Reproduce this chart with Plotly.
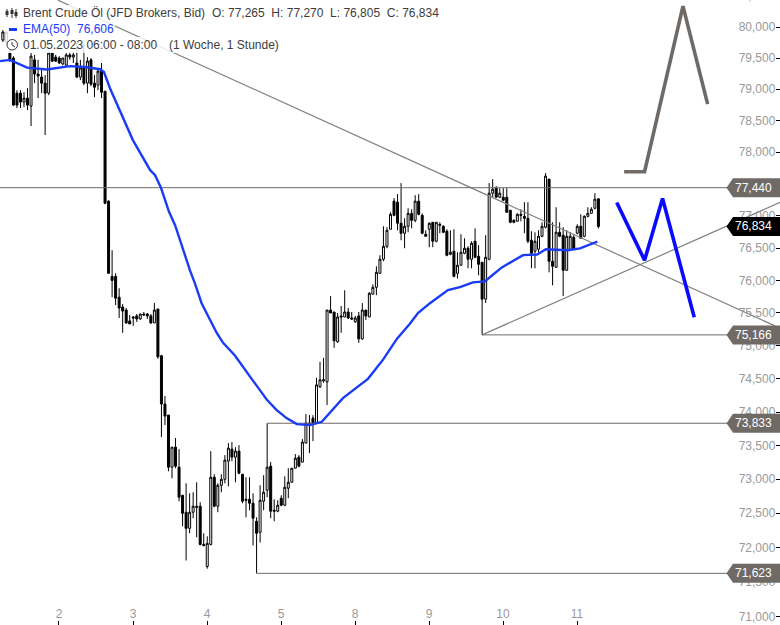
import math
import plotly.graph_objects as go

# hourly candles
opens = [79790,79760,79580,79500,78937,78937,78794,78857,78730,79470,79242,79194,79097,78937,79580,79515,79500,79405,79385,79550,
79515,79420,79194,79355,79097,79470,79097,79065,79290,78968,77229,76062,76062,75742,75591,75545,75379,75439,75455,75409,
75485,75485,75455,75349,75561,74849,74121,73955,73179,73477,73179,72765,72515,72279,72515,72603,72603,72044,71721,72044,
73030,72603,72912,73000,73269,73448,73328,73418,73075,72706,72706,72647,72382,72221,72677,72838,73194,72544,72530,72721,
72618,72868,72956,73164,73328,73254,73537,73836,73910,73836,74379,74470,74455,75545,75515,75061,75455,75439,75515,75424,
75364,75455,75106,75545,75439,75788,75894,76109,76326,76527,76791,77229,77213,76884,76729,76837,77039,76930,77229,77008,
76713,76791,76899,76605,76868,76837,76760,76403,76450,76109,76233,76419,76496,76326,76605,76372,76279,75712,76326,77354,
77433,77291,77291,77291,77087,76930,76915,77024,76992,76961,76620,76450,76481,76682,76822,77575,76295,76202,76744,76698,
76155,76465,76667,76729,76837,76682,76992,77039,77118,77265]
highs = [79950,79935,79645,79530,78984,78984,78952,79016,79580,79550,79470,79339,79226,79610,79580,79550,79530,79500,79580,79595,
79595,79740,79470,79740,79515,79500,79226,79339,79420,78968,77244,76465,76109,75879,75636,75576,75470,75455,75485,75485,
75515,75500,75485,75652,75561,74864,74242,73955,73477,73612,73448,72765,72941,72794,72809,72956,72662,72206,72162,73418,
73075,72941,73075,73358,73537,73552,73477,73507,73075,73030,73030,72794,72441,72912,73060,73833,73254,72706,72691,72765,
73045,73164,73164,73373,73358,73597,73970,73955,73955,74515,74758,74818,75545,75758,75515,75500,75606,75848,75576,75515,
75455,75515,75652,75545,75818,75939,76217,76388,76837,76822,77055,77276,77339,77512,76961,77118,77102,77323,77339,77039,
76775,76899,76899,76899,76899,76853,76791,76775,76791,76434,76713,76651,76527,76605,76806,76543,76279,76698,77512,77575,
77465,77433,77433,77433,77087,76946,77039,77102,77213,77213,76760,76744,76775,76899,77669,77575,76899,77134,76899,76822,
76775,76744,76698,76868,77024,77008,77134,77134,77354,77270]
lows = [79760,79725,79435,78730,78698,78698,78714,78667,78413,79097,78857,78937,78270,78905,79435,79435,79405,79385,79370,79470,
79420,79178,79145,79065,78937,79048,78873,78984,78857,77181,76109,75742,75621,75424,75197,75333,75333,75303,75364,75394,
75455,75409,75333,75349,74803,73627,73806,73119,73015,73164,72677,72309,71809,72206,72427,72147,72029,72015,71691,72029,
72588,72515,72809,72941,72897,73269,72956,73075,72647,72441,72544,72029,71623,72073,72544,72735,72427,72382,72515,72603,
72603,72721,72956,73164,73179,73254,73537,73388,73567,73820,74364,74440,74106,75500,74970,75045,75197,75439,75409,75394,
75349,75045,75091,75394,75439,75788,75773,76109,76295,76496,76791,76992,76775,76620,76496,76744,76806,76899,77008,76713,
76682,76512,76512,76589,76729,76729,76372,76388,76047,76031,76233,76403,76186,76186,76341,76078,75166,75652,76310,77291,
77291,77276,77229,77055,76884,76884,76915,76915,76729,76574,76186,76186,76434,76667,76806,76124,75924,76202,76667,75758,
76155,76450,76465,76713,76651,76667,76977,77039,77102,76805]
closes = [79920,79920,79470,78746,78746,78794,78857,78746,79530,79242,79210,79097,78937,79580,79450,79450,79420,79500,79550,79515,
79550,79194,79339,79097,79450,79081,79032,79290,78952,77197,76109,76000,75727,75576,75530,75349,75333,75424,75409,75485,
75470,75455,75349,75545,74833,74121,73940,73179,73477,73194,72735,72500,72279,72515,72603,72588,72044,72029,72059,73030,
72603,72912,73000,73284,73462,73328,73418,73090,72677,72691,72647,72427,72206,72691,72809,73179,72530,72530,72618,72618,
72882,72956,73164,73313,73194,73552,73836,73820,73836,74409,74485,74485,75545,75500,75076,75439,75439,75515,75424,75409,
75424,75106,75545,75455,75803,75894,76124,76326,76527,76775,77024,77008,76884,76729,76837,77039,76930,77229,77024,76729,
76682,76884,76605,76899,76853,76744,76388,76434,76062,76233,76434,76496,76326,76574,76357,76248,75712,76357,77354,77417,
77291,77354,77244,77055,76899,76899,77024,77008,76961,76605,76419,76605,76682,76837,77622,76295,76217,76744,76682,76155,
76682,76682,76481,76837,76651,76992,77039,77102,77260,76834]

ema_x = [-0.8,2,6.9,12.5,19,23.3,27.6,28.7,30.4,33.2,36.9,41.8,43.2,44.9,47.1,48.9,50.3,51.7,53.1,54.5,56.4,57.8,60.7,62.5,65.9,70.6,75,77.7,80.5,83.4,87.2,90.5,92.8,96.5,103.6,107.9,111.8,115.5,117.8,121.2,126.3,129.7,133.4,136.8,138.8,141.6,147.6,151.6,154.1,160.1,163.8,168.7]
ema_y = [79450,79470,79345,79315,79370,79355,79320,79275,79015,78665,78190,77715,77635,77435,77070,76850,76620,76370,76155,75955,75650,75500,75195,75045,74850,74500,74180,74030,73910,73820,73805,73855,73995,74210,74500,74790,75105,75335,75500,75650,75850,75895,75970,75985,76075,76200,76390,76400,76480,76465,76495,76600]

level_prices = [77440, 75166, 73833, 71623]
level_starts = [-0.81, 136, 75, 72]
level_labels = ["77,440", "75,166", "73,833", "71,623"]
last_price = 76834
last_label = "76,834"

fall_x = [15.65, 219.1]
fall_y = [80437, 75303]
rise_x = [136, 220.53]
rise_y = [75166, 77210]

plan_grey_x = [176.3, 182.1, 193, 200]
plan_grey_y = [77690, 77690, 80340, 78762]
plan_blue_x = [174.2, 182.1, 187.2, 196.2]
plan_blue_y = [77208, 76310, 77271, 75435]

day_ticks = [15.93, 36.93, 57.93, 78.93, 99.93, 120.93, 141.93, 162.93]
day_labels = ["2", "3", "4", "5", "8", "9", "10", "11"]
price_ticks = [71000 + 500 * k for k in range(19)]
price_labels = [f"{v:,}" for v in price_ticks]

FONT = "Liberation Sans"
W, H = 780, 625
X_RANGE = [-0.81, 220.53]
Y_RANGE = [4.85051, 4.90547]
GREY = "#6f6a66"
BLUE = "#1a3cf5"


def px(x):
    return x / W


def py(y):
    return 1 - y / H


def text(x, y, s, color="#3c3c3c", size=12):
    return dict(x=px(x), y=py(y), xref="paper", yref="paper", text=s, showarrow=False,
                xanchor="left", yanchor="middle", font=dict(family=FONT, size=size, color=color),
                borderpad=0, borderwidth=0)


fig = go.Figure()
for xs, ys in [(fall_x, fall_y), (rise_x, rise_y)]:
    fig.add_trace(go.Scatter(x=xs, y=ys, mode="lines", line=dict(color="#808080", width=1.2), hoverinfo="skip"))
for start, price in zip(level_starts, level_prices):
    fig.add_trace(go.Scatter(x=[start, X_RANGE[1]], y=[price, price], mode="lines",
                             line=dict(color=GREY, width=1), hoverinfo="skip"))
fig.add_trace(go.Candlestick(x=list(range(len(opens))), open=opens, high=highs, low=lows, close=closes,
                             whiskerwidth=0,
                             increasing=dict(line=dict(color="#000000", width=1), fillcolor="#ffffff"),
                             decreasing=dict(line=dict(color="#000000", width=1), fillcolor="#000000"),
                             hoverinfo="skip"))
fig.add_trace(go.Scatter(x=ema_x, y=ema_y, mode="lines", line=dict(color=BLUE, width=2.4), hoverinfo="skip"))
fig.add_trace(go.Scatter(x=plan_grey_x, y=plan_grey_y, mode="lines", line=dict(color=GREY, width=3.6), hoverinfo="skip"))
fig.add_trace(go.Scatter(x=plan_blue_x, y=plan_blue_y, mode="lines", line=dict(color="#0a0aff", width=3.6), hoverinfo="skip"))

shapes = []
# translucent backing of the three header rows
for x1, y0, y1 in [(445, 5, 21), (115, 21, 37), (282, 37, 53)]:
    shapes.append(dict(type="rect", xref="paper", yref="paper", x0=px(5), x1=px(x1), y0=py(y1), y1=py(y0),
                       fillcolor="rgba(255,255,255,0.82)", line=dict(width=0), layer="above"))
# price tags


def tag(price, color):
    return dict(type="path", xref="x", yref="y", xsizemode="pixel", ysizemode="pixel",
                xanchor=X_RANGE[1], yanchor=price,
                path="M -53.5,0 L -47,9.5 L 0,9.5 L 0,-9.5 L -47,-9.5 Z",
                fillcolor=color, line=dict(width=0), layer="above")


for price in level_prices:
    shapes.append(tag(price, GREY))
shapes.append(tag(last_price, "#000000"))

# header icons
shapes.append(dict(type="rect", xref="paper", yref="paper", x0=px(9), x1=px(17), y0=py(31), y1=py(28),
                   fillcolor=BLUE, line=dict(width=0), layer="above"))
shapes.append(dict(type="circle", xref="paper", yref="paper", x0=px(7), x1=px(17.5), y0=py(50), y1=py(39.5),
                   line=dict(color="#333333", width=1), layer="above"))
for x0, y0, x1, y1 in [(12, 42, 12, 45), (12, 45, 15, 47),
                       (7, 9, 7, 17), (12, 8, 12, 18), (16, 9, 16, 18)]:
    shapes.append(dict(type="line", xref="paper", yref="paper", x0=px(x0), x1=px(x1), y0=py(y0), y1=py(y1),
                       line=dict(color="#333333", width=1), layer="above"))
for cx, y0, y1 in [(7, 11, 15), (12, 10, 14), (16, 12, 16)]:
    shapes.append(dict(type="rect", xref="paper", yref="paper", x0=px(cx - 1.5), x1=px(cx + 1.5), y0=py(y1), y1=py(y0),
                       fillcolor="#333333", line=dict(width=0), layer="above"))

anns = [
    text(23, 13, "Brent Crude Öl (JFD Brokers, Bid)"),
    text(212, 13, "O: 77,265\u00a0\u00a0H: 77,270\u00a0\u00a0L: 76,805\u00a0\u00a0C: 76,834"),
    text(23, 29, "EMA(50)", BLUE),
    text(77, 29, "76,606", BLUE),
    text(23, 45, "01.05.2023 06:00 - 08:00"),
    text(169, 45, "(1 Woche, 1 Stunde)"),
]
for price, label in list(zip(level_prices, level_labels)) + [(last_price, last_label)]:
    frac = (math.log10(price) - Y_RANGE[0]) / (Y_RANGE[1] - Y_RANGE[0])
    anns.append(dict(x=px(773.5), y=frac, xref="paper", yref="paper", text=label, showarrow=False,
                     xanchor="right", yanchor="middle", font=dict(family=FONT, size=12, color="#ffffff")))
# the 80,500 label that is cut by the top edge
frac = (math.log10(80500) - Y_RANGE[0]) / (Y_RANGE[1] - Y_RANGE[0])
anns.append(dict(x=px(773.5), y=frac, xref="paper", yref="paper", text="80,500", showarrow=False,
                 xanchor="right", yanchor="middle", font=dict(family=FONT, size=12, color="#999999")))

fig.update_layout(
    width=W, height=H, autosize=False, margin=dict(l=0, r=0, t=0, b=0),
    paper_bgcolor="#ffffff", plot_bgcolor="#ffffff", showlegend=False, boxgap=0.2,
    shapes=shapes, annotations=anns, hovermode=False,
    xaxis=dict(range=X_RANGE, type="linear", rangeslider=dict(visible=False), showgrid=False, zeroline=False,
               showline=False, tickmode="array", tickvals=day_ticks, ticktext=day_labels, ticks="inside",
               ticklen=4, tickwidth=1, tickcolor="#000000", ticklabelposition="inside", ticklabeloverflow="allow",
               tickfont=dict(family=FONT, size=12, color="#999999")),
    yaxis=dict(range=Y_RANGE, type="log", side="right", showgrid=False, zeroline=False, showline=False,
               tickmode="array", tickvals=price_ticks, ticktext=price_labels, ticks="inside",
               ticklen=4, tickwidth=1, tickcolor="#000000", ticklabelposition="inside", ticklabeloverflow="allow",
               tickfont=dict(family=FONT, size=12, color="#999999")),
)
fig.write_html("out.html", config=dict(displayModeBar=False),
               post_script="document.body.style.margin='0';document.documentElement.style.overflow='hidden';document.body.style.overflow='hidden';")
